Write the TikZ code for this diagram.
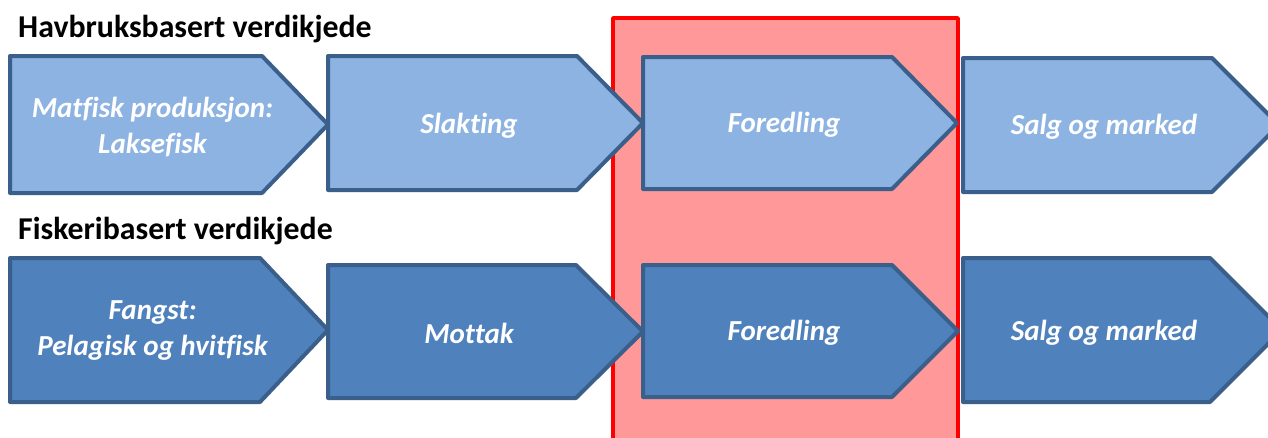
\documentclass[tikz,border=0pt]{standalone}
\usepackage{fontspec}
\setmainfont{Carlito}[Ligatures=NoCommon]
\definecolor{lightfill}{HTML}{8DB3E2}
\definecolor{darkfill}{HTML}{4F81BD}
\definecolor{edgeblue}{HTML}{3A5F8B}
\definecolor{redfill}{HTML}{FF9999}
\definecolor{redline}{HTML}{FF0000}
\newcommand\pentshape[6]{% #1 style, #2 left, #3 top, #4 bottom, #5 shoulder, #6 tip
  \draw[#1] (#2,#3) -- (#5,#3) -- (#6,{(#3+#4)/2}) -- (#5,#4) -- (#2,#4) -- cycle;}
\tikzset{
  pentbase/.style={draw=edgeblue, line width=4pt, line join=round},
  pentlight/.style={pentbase, fill=lightfill},
  pentdark/.style={pentbase, fill=darkfill},
  steptext/.style={text=white, font=\fontsize{29}{36}\selectfont\bfseries\itshape, align=center, inner sep=0pt},
  titletext/.style={text=black, font=\fontsize{31.8}{36}\selectfont\bfseries, anchor=base west, inner sep=0pt},
  highlight/.style={draw=redline, line width=3.5pt, fill=redfill, line join=round}
}
\begin{document}
\begin{tikzpicture}[x=1pt,y=-1pt]
\useasboundingbox (0,0) rectangle (1268,437);
\clip (0,0) rectangle (1268,437);
\fill[white] (0,0) rectangle (1268,437);
% highlight box
\draw[highlight] (613,18) rectangle (958,460);
% titles
\node[titletext] (t1) at (18,37) {Havbruksbasert verdikjede};
\node[titletext] (t2) at (18,239) {Fiskeribasert verdikjede};
% row 1
\pentshape{pentlight}{10}{56}{193}{262}{328}
\pentshape{pentlight}{328}{56}{190}{577}{643}
\pentshape{pentlight}{643}{57}{189}{892}{957}
\pentshape{pentlight}{963}{58}{192}{1212}{1279}
\node[steptext] (a1) at (152.5,127) {Matfisk produksjon:\\Laksefisk};
\node[steptext] (a2) at (469,126) {Slakting};
\node[steptext] (a3) at (784,125) {Foredling};
\node[steptext] (a4) at (1104,127) {Salg og marked};
% row 2
\pentshape{pentdark}{10}{258}{402}{260}{328}
\pentshape{pentdark}{328}{265}{398}{576}{643}
\pentshape{pentdark}{643}{265}{397}{892}{958}
\pentshape{pentdark}{963}{258}{402}{1210}{1282}
\node[steptext] (b1) at (152.5,331) {Fangst:\\Pelagisk og hvitfisk};
\node[steptext] (b2) at (469,333) {Mottak};
\node[steptext] (b3) at (784,333) {Foredling};
\node[steptext] (b4) at (1104,333) {Salg og marked};
\end{tikzpicture}
\end{document}
